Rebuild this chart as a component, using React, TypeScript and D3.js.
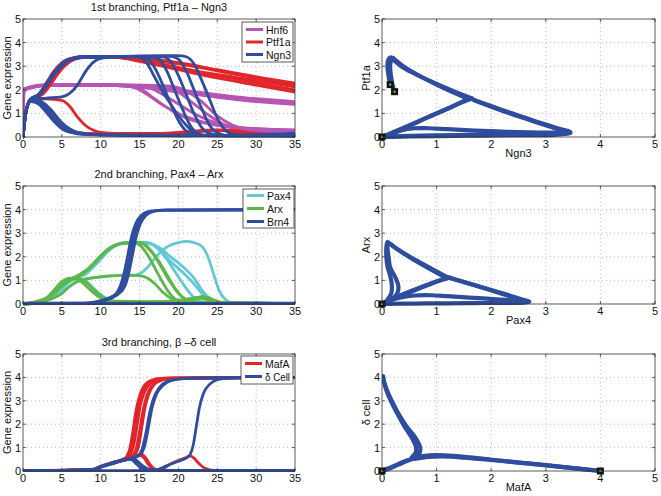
import React from 'react';
import * as d3 from 'd3';

type Pt = [number, number];

const FONT = '"Liberation Sans", Arial, Helvetica, sans-serif';

const timeTicks = [0, 5, 10, 15, 20, 25, 30, 35];
const levelTicks = [0, 1, 2, 3, 4, 5];

const RED = '#e2242b';
const BLUE = '#2f4d9f';
const MAGENTA = '#b655b3';
const CYAN = '#62c8d8';
const GREEN = '#5cb84b';

// ---------- 1st branching: time courses ----------
const hnf6Runs: Pt[][] = [
  [[0, 0], [0.15, 1.9], [0.5, 2.05], [1, 2.12], [3, 2.2], [10, 2.22], [15, 2.15], [20, 1.95], [25, 1.75], [30, 1.58], [35, 1.45]],
  [[0, 1.98], [1, 2.1], [3, 2.18], [10, 2.2], [15, 2.1], [20, 1.9], [25, 1.68], [30, 1.5], [35, 1.38]],
  [[0, 2.02], [1, 2.14], [3, 2.22], [10, 2.23], [15, 2.18], [20, 2.0], [25, 1.8], [30, 1.62], [35, 1.5]],
  [[0, 2.0], [3, 2.2], [10, 2.2], [14, 2.12], [16, 1.8], [18, 1.35], [20, 1.0], [22, 0.75], [25, 0.5], [30, 0.35], [35, 0.28]],
  [[0, 2.0], [3, 2.2], [12, 2.2], [16, 2.1], [18, 1.8], [20, 1.4], [22, 1.0], [24, 0.7], [27, 0.45], [31, 0.3], [35, 0.22]],
  [[0, 2.0], [3, 2.2], [14, 2.2], [18, 2.15], [20, 1.9], [22, 1.4], [24, 0.9], [26, 0.5], [28, 0.3], [31, 0.2], [35, 0.15]],
  [[0, 2.0], [3, 2.2], [15, 2.2], [19, 2.15], [21, 1.95], [23, 1.5], [25, 0.9], [27, 0.5], [29, 0.3], [32, 0.2], [35, 0.18]],
  [[0, 1.99], [3, 2.19], [12, 2.2], [15, 2.05], [17, 1.6], [19, 1.15], [21, 0.8], [24, 0.55], [28, 0.38], [35, 0.3]],
];

const ptf1aRuns: Pt[][] = [
  [[0, 0], [0.4, 1.1], [1, 1.6], [2, 1.75], [3, 2.15], [4, 2.65], [5, 3.05], [6, 3.28], [7, 3.38], [9, 3.42], [12, 3.4], [15, 3.3], [20, 3.1], [25, 2.8], [30, 2.5], [35, 2.2]],
  [[0, 0], [0.4, 1.1], [1, 1.6], [2, 1.7], [3, 2.0], [4, 2.45], [5, 2.9], [6, 3.2], [7, 3.35], [9, 3.4], [12, 3.38], [15, 3.25], [20, 2.95], [25, 2.6], [30, 2.3], [35, 2.0]],
  [[0, 0], [0.4, 1.1], [1, 1.6], [2, 1.8], [3, 2.3], [4, 2.8], [5, 3.15], [6, 3.32], [8, 3.4], [12, 3.4], [15, 3.35], [20, 3.15], [25, 2.85], [30, 2.55], [35, 2.28]],
  [[0, 0], [0.4, 1.1], [1, 1.6], [2.5, 1.8], [3.5, 2.2], [4.5, 2.7], [5.5, 3.05], [6.5, 3.28], [8, 3.38], [12, 3.38], [15, 3.2], [20, 2.85], [25, 2.5], [30, 2.2], [35, 1.9]],
  [[0, 0], [0.4, 1.1], [1, 1.6], [2, 1.78], [3, 2.2], [4, 2.7], [5, 3.1], [6, 3.3], [8, 3.4], [12, 3.4], [15, 3.3], [18, 3.05], [22, 2.8], [27, 2.55], [31, 2.35], [35, 2.12]],
  [[0, 0], [0.4, 1.1], [1, 1.55], [2, 1.5], [3, 1.25], [4, 0.85], [5, 0.5], [6, 0.3], [7, 0.2], [9, 0.14], [15, 0.12], [20, 0.15], [24, 0.28], [27, 0.25], [30, 0.12], [35, 0.08]],
  [[0, 0], [0.4, 1.1], [1, 1.55], [2, 1.45], [3, 1.1], [4, 0.7], [5, 0.4], [6, 0.25], [8, 0.15], [15, 0.1], [20, 0.2], [25, 0.3], [28, 0.15], [35, 0.1]],
  [[0, 0], [0.4, 1.1], [1, 1.6], [3, 1.62], [5, 1.55], [6, 1.3], [7, 0.85], [8, 0.5], [9, 0.3], [10, 0.2], [12, 0.15], [18, 0.15], [22, 0.22], [26, 0.3], [30, 0.15], [35, 0.05]],
];

const ngn3Runs: Pt[][] = [
  [[0, 0], [0.4, 1.1], [1, 1.6], [2, 1.8], [3, 2.25], [4, 2.75], [5, 3.1], [6, 3.3], [8, 3.4], [15, 3.42], [16, 3.35], [17, 2.9], [18, 2.2], [19, 1.4], [20, 0.7], [21, 0.25], [22, 0.1], [25, 0.05], [35, 0.05]],
  [[0, 0], [0.4, 1.1], [1, 1.6], [2, 1.75], [3, 2.15], [4, 2.65], [5, 3.0], [6, 3.25], [8, 3.38], [16, 3.42], [17.5, 3.3], [18.5, 2.8], [19.5, 2.0], [20.5, 1.2], [21.5, 0.5], [22.5, 0.15], [24, 0.05], [35, 0.05]],
  [[0, 0], [0.4, 1.1], [1, 1.6], [3, 1.65], [5, 1.7], [6, 1.85], [7, 2.2], [8, 2.75], [9, 3.15], [10, 3.33], [12, 3.4], [18, 3.45], [20, 3.45], [21, 3.4], [22, 3.1], [23, 2.4], [24, 1.6], [25, 0.8], [26, 0.3], [27, 0.12], [29, 0.05], [35, 0.08]],
  [[0, 0], [0.4, 1.1], [1, 1.6], [2, 1.8], [3, 2.2], [4, 2.7], [5, 3.05], [6, 3.28], [8, 3.4], [15, 3.4], [18, 3.4], [19, 3.2], [20, 2.6], [21, 1.8], [22, 1.0], [23, 0.4], [24, 0.15], [26, 0.05], [35, 0.1]],
  [[0, 0], [0.4, 1.1], [1, 1.6], [2, 1.77], [3, 2.2], [4, 2.7], [5, 3.08], [6, 3.3], [8, 3.4], [15, 3.4], [16, 3.1], [17, 2.5], [18, 1.9], [19, 1.4], [20, 0.9], [21, 0.5], [22, 0.2], [23, 0.08], [35, 0.05]],
  [[0, 0], [0.4, 1.1], [1, 1.6], [2, 1.76], [3, 2.18], [4, 2.68], [5, 3.04], [6, 3.27], [8, 3.4], [15, 3.42], [19, 3.42], [20, 3.3], [21, 2.8], [22, 2.0], [23, 1.2], [24, 0.5], [25, 0.18], [26.5, 0.06], [35, 0.12]],
  [[0, 0], [0.4, 1.1], [1, 1.55], [2, 1.5], [3, 1.2], [4, 0.8], [5, 0.45], [6, 0.25], [8, 0.12], [12, 0.08], [35, 0.05]],
  [[0, 0], [0.4, 1.1], [1, 1.5], [2, 1.4], [3, 1.05], [4, 0.65], [5, 0.35], [6, 0.2], [8, 0.1], [20, 0.05], [30, 0.1], [35, 0.15]],
  [[0, 0], [0.4, 1.1], [1, 1.6], [2, 1.55], [3, 1.35], [4, 1.0], [5, 0.6], [6, 0.35], [7, 0.2], [9, 0.1], [35, 0.05]],
];

// ---------- 2nd branching: time courses ----------
const pax4Runs: Pt[][] = [
  [[0, 0], [2, 0.05], [3, 0.2], [4, 0.45], [5, 0.75], [6, 1.0], [7, 1.15], [8, 1.3], [9, 1.6], [10, 1.95], [11, 2.3], [12, 2.5], [13, 2.6], [15, 2.62], [16.5, 2.55], [17.5, 2.3], [18.5, 1.9], [19.5, 1.4], [20.5, 0.9], [21.5, 0.45], [22.5, 0.15], [24, 0.03], [35, 0.02]],
  [[0, 0], [2, 0.05], [3, 0.18], [4, 0.4], [5, 0.7], [6, 0.95], [7, 1.1], [8, 1.25], [9, 1.55], [10, 1.9], [11, 2.25], [12, 2.48], [13, 2.58], [16, 2.6], [17, 2.45], [18, 2.15], [19, 1.8], [20, 1.5], [21, 1.2], [22, 0.85], [23, 0.45], [24, 0.15], [25, 0.04], [35, 0.02]],
  [[0, 0], [2, 0.06], [3, 0.22], [4, 0.48], [5, 0.8], [6, 1.02], [7, 1.18], [8, 1.35], [9, 1.65], [10, 2.0], [11, 2.32], [12, 2.52], [13, 2.6], [16, 2.58], [17.5, 2.4], [19, 2.0], [20.5, 1.6], [22, 1.1], [23, 0.6], [24, 0.25], [25, 0.08], [26, 0.02], [35, 0.02]],
  [[0, 0], [3, 0.15], [5, 0.45], [6, 0.75], [7, 0.95], [8, 1.05], [10, 1.15], [12, 1.2], [14, 1.2], [15, 1.28], [16, 1.55], [17, 1.95], [18, 2.3], [19, 2.5], [20, 2.6], [21, 2.65], [22, 2.6], [23, 2.45], [23.8, 2.0], [24.5, 1.3], [25.2, 0.6], [26, 0.2], [27, 0.05], [35, 0.02]],
  [[0, 0], [3, 0.15], [5, 0.6], [6, 0.95], [7, 1.1], [8, 1.0], [9, 0.7], [10, 0.4], [11, 0.2], [12, 0.1], [14, 0.05], [35, 0.02]],
];

const arxRuns: Pt[][] = [
  [[0, 0], [2, 0.05], [3, 0.2], [4, 0.45], [5, 0.75], [6, 1.0], [7, 1.15], [8, 1.35], [9, 1.65], [10, 2.0], [11, 2.3], [12, 2.5], [13, 2.58], [15, 2.6], [16, 2.4], [17, 2.0], [18, 1.45], [19, 0.9], [20, 0.45], [21, 0.2], [22, 0.2], [23, 0.3], [24, 0.25], [25, 0.1], [26, 0.03], [35, 0.02]],
  [[0, 0], [2, 0.05], [3, 0.25], [4, 0.5], [5, 0.8], [6, 1.05], [7, 1.2], [8, 1.4], [9, 1.7], [10, 2.05], [11, 2.35], [12, 2.52], [14, 2.6], [15.5, 2.55], [16.5, 2.25], [17.5, 1.8], [18.5, 1.25], [19.5, 0.7], [20.5, 0.3], [21.5, 0.15], [22.5, 0.25], [23.5, 0.2], [25, 0.05], [35, 0.02]],
  [[0, 0], [2, 0.06], [3, 0.22], [4, 0.48], [5, 0.78], [6, 1.02], [7, 1.18], [8, 1.38], [9, 1.68], [10, 2.02], [11, 2.32], [12, 2.5], [14, 2.6], [15, 2.5], [16, 2.1], [17, 1.5], [18, 0.9], [19, 0.4], [20, 0.15], [21, 0.1], [23, 0.3], [24, 0.22], [26, 0.04], [35, 0.02]],
  [[0, 0], [3, 0.15], [5, 0.45], [6, 0.75], [7, 0.95], [8, 1.05], [10, 1.15], [12, 1.2], [14, 1.22], [15, 1.2], [16, 1.1], [17, 0.85], [18, 0.5], [19, 0.25], [20, 0.12], [22, 0.08], [35, 0.02]],
  [[0, 0], [3, 0.2], [4, 0.5], [5, 0.85], [6, 1.05], [7, 1.1], [8, 0.95], [9, 0.65], [10, 0.35], [11, 0.18], [12, 0.12], [16, 0.1], [20, 0.12], [22, 0.25], [23, 0.3], [24, 0.2], [26, 0.03], [35, 0.02]],
  [[0, 0], [3, 0.25], [4, 0.6], [5, 0.95], [6, 1.1], [7, 1.05], [8, 0.8], [9, 0.5], [10, 0.25], [11, 0.12], [14, 0.08], [18, 0.1], [21, 0.2], [23, 0.28], [25, 0.08], [35, 0.02]],
];

const brn4Runs: Pt[][] = [
  [[0, 0.02], [8, 0.03], [9, 0.06], [10, 0.12], [11, 0.22], [12, 0.4], [12.8, 0.75], [13.3, 1.3], [13.8, 2.1], [14.3, 2.9], [14.8, 3.4], [15.5, 3.75], [16.5, 3.92], [18, 3.98], [35, 4.0]],
  [[0, 0.02], [8, 0.03], [9, 0.05], [10, 0.1], [11, 0.2], [12, 0.36], [13.1, 0.75], [13.6, 1.3], [14.1, 2.1], [14.6, 2.9], [15.1, 3.4], [15.8, 3.75], [16.8, 3.92], [18.5, 3.98], [35, 4.0]],
  [[0, 0.02], [8, 0.04], [9, 0.07], [10, 0.14], [11, 0.25], [12, 0.45], [12.5, 0.75], [13.0, 1.3], [13.5, 2.1], [14.0, 2.9], [14.5, 3.4], [15.2, 3.75], [16.2, 3.92], [17.8, 3.98], [35, 4.0]],
  [[0, 0.02], [35, 0.02]],
  [[0, 0.04], [20, 0.03], [35, 0.04]],
];

// ---------- 3rd branching: time courses ----------
const mafaRuns: Pt[][] = [
  [[0, 0.02], [8, 0.04], [9, 0.08], [10, 0.18], [11, 0.28], [12, 0.38], [13, 0.5], [13.5, 0.65], [14, 1.1], [14.4, 1.9], [14.8, 2.7], [15.3, 3.3], [16, 3.7], [17, 3.9], [18.5, 3.97], [35, 4.0]],
  [[0, 0.02], [9, 0.06], [10, 0.2], [11, 0.3], [12, 0.4], [13, 0.52], [13.8, 0.7], [14.3, 1.2], [14.7, 2.0], [15.1, 2.8], [15.6, 3.35], [16.3, 3.72], [17.3, 3.9], [19, 3.97], [35, 4.0]],
  [[0, 0.02], [9, 0.06], [10, 0.2], [12, 0.4], [13, 0.5], [14, 0.62], [14.6, 1.0], [15, 1.7], [15.4, 2.5], [15.9, 3.2], [16.6, 3.65], [17.6, 3.88], [19, 3.96], [35, 4.0]],
  [[0, 0.02], [9, 0.05], [10, 0.18], [12, 0.38], [13, 0.48], [14.2, 0.62], [14.9, 1.1], [15.3, 1.9], [15.7, 2.7], [16.2, 3.3], [16.9, 3.7], [18, 3.9], [19.5, 3.97], [35, 4.0]],
  [[0, 0.02], [9, 0.06], [10, 0.2], [12, 0.4], [13, 0.5], [13.3, 0.6], [13.7, 0.9], [14.1, 1.6], [14.5, 2.5], [14.9, 3.1], [15.5, 3.6], [16.5, 3.88], [18, 3.97], [35, 4.0]],
  [[0, 0.02], [9, 0.05], [10, 0.18], [12, 0.38], [13.5, 0.52], [14.5, 0.65], [15.2, 0.72], [15.7, 0.6], [16.3, 0.3], [17, 0.08], [18, 0.03], [35, 0.02]],
  [[0, 0.02], [9, 0.05], [10, 0.18], [12, 0.38], [13.5, 0.52], [14.5, 0.62], [15, 0.68], [15.6, 0.55], [16.2, 0.25], [17, 0.06], [18, 0.1], [19, 0.3], [20, 0.45], [21, 0.58], [21.5, 0.65], [22, 0.55], [22.7, 0.3], [23.5, 0.1], [24.5, 0.03], [35, 0.02]],
];

const deltaRuns: Pt[][] = [
  [[0, 0.02], [9, 0.05], [10, 0.18], [11, 0.3], [12, 0.4], [13, 0.48], [14, 0.55], [14.8, 0.65], [15.3, 0.9], [15.8, 1.6], [16.3, 2.5], [16.8, 3.1], [17.5, 3.55], [18.5, 3.82], [20, 3.93], [23, 3.98], [35, 4.0]],
  [[0, 0.02], [9, 0.05], [10, 0.17], [12, 0.38], [14, 0.55], [15, 0.68], [15.6, 1.0], [16.1, 1.8], [16.6, 2.7], [17.2, 3.3], [18, 3.65], [19.2, 3.88], [21, 3.96], [35, 4.0]],
  [[0, 0.02], [9, 0.05], [10, 0.18], [12, 0.38], [13.5, 0.5], [14.2, 0.55], [14.8, 0.4], [15.4, 0.2], [16, 0.05], [17, 0.02], [35, 0.02]],
  [[0, 0.02], [9, 0.05], [10, 0.16], [12, 0.36], [13.5, 0.52], [14, 0.48], [14.6, 0.3], [15.2, 0.12], [16, 0.03], [35, 0.02]],
  [[0, 0.02], [9, 0.05], [10, 0.18], [12, 0.38], [14, 0.52], [14.5, 0.45], [15.3, 0.25], [16.2, 0.08], [17, 0.05], [18, 0.15], [19, 0.3], [20, 0.42], [21, 0.55], [21.5, 0.7], [21.9, 1.1], [22.3, 1.9], [22.7, 2.7], [23.2, 3.3], [24, 3.7], [25, 3.9], [26.5, 3.97], [35, 4.0]],
  [[0, 0.02], [35, 0.02]],
];

// ---------- phase portraits ----------
// x = Ngn3, y = Ptf1a
const ptfNgnPaths: Pt[][] = [
  [[0, 0], [0.4, 0.4], [0.8, 0.8], [1.2, 1.2], [1.6, 1.6], [1.65, 1.63]],
  [[0.05, 0.02], [0.45, 0.42], [0.85, 0.84], [1.25, 1.25], [1.55, 1.58]],
  [[1.65, 1.63], [1.3, 1.95], [0.95, 2.3], [0.6, 2.68], [0.35, 3.0], [0.2, 3.3], [0.16, 3.38], [0.12, 3.3], [0.1, 3.05], [0.11, 2.75], [0.13, 2.45], [0.16, 2.22]],
  [[1.6, 1.6], [1.2, 2.0], [0.8, 2.45], [0.45, 2.9], [0.25, 3.25], [0.2, 3.35], [0.16, 3.2], [0.15, 2.9], [0.17, 2.5], [0.2, 2.15], [0.23, 1.92]],
  [[1.65, 1.6], [2.1, 1.2], [2.6, 0.8], [3.1, 0.42], [3.4, 0.2], [3.45, 0.17], [3.3, 0.14], [2.8, 0.12], [2.2, 0.1], [1.6, 0.09], [1.0, 0.07], [0.5, 0.05], [0.1, 0.02], [0, 0]],
  [[1.7, 1.55], [2.2, 1.15], [2.7, 0.75], [3.2, 0.38], [3.45, 0.2], [3.2, 0.1], [2.5, 0.08], [1.8, 0.06], [1.1, 0.04], [0.5, 0.03], [0, 0]],
  [[0, 0], [0.15, 0.12], [0.35, 0.28], [0.6, 0.37], [0.85, 0.37], [1.2, 0.33], [1.7, 0.27], [2.3, 0.22], [2.9, 0.19], [3.4, 0.18]],
];
const ptfNgnEnds: Pt[] = [[0, 0], [0.15, 2.22], [0.23, 1.92]];

// x = Pax4, y = Arx
const arxPaxPaths: Pt[][] = [
  [[0, 0], [0.3, 0.3], [0.6, 0.58], [0.9, 0.86], [1.2, 1.13]],
  [[0.05, 0.05], [0.35, 0.38], [0.7, 0.7], [1.0, 0.95], [1.25, 1.12]],
  [[1.2, 1.13], [0.9, 1.5], [0.6, 1.88], [0.3, 2.3], [0.14, 2.55], [0.1, 2.63], [0.08, 2.4], [0.08, 2.0], [0.1, 1.6], [0.15, 1.2], [0.18, 0.8], [0.17, 0.45], [0.1, 0.18], [0.03, 0.03], [0, 0]],
  [[1.18, 1.1], [0.85, 1.52], [0.55, 1.92], [0.28, 2.32], [0.12, 2.58], [0.1, 2.4], [0.12, 2.0], [0.15, 1.55], [0.25, 1.1], [0.3, 0.75], [0.28, 0.45], [0.18, 0.2], [0.05, 0.04], [0, 0]],
  [[1.2, 1.13], [1.55, 0.9], [1.9, 0.66], [2.25, 0.42], [2.55, 0.2], [2.7, 0.1], [2.6, 0.06], [2.2, 0.05], [1.7, 0.04], [1.2, 0.03], [0.6, 0.02], [0, 0]],
  [[1.25, 1.1], [1.6, 0.86], [2.0, 0.58], [2.35, 0.32], [2.62, 0.13], [2.68, 0.08]],
  [[0, 0], [0.15, 0.15], [0.35, 0.28], [0.6, 0.36], [0.9, 0.37], [1.2, 0.33], [1.6, 0.27], [2.1, 0.2], [2.5, 0.13], [2.68, 0.09]],
];
const arxPaxEnds: Pt[] = [[0, 0]];

// x = MafA, y = delta cell
const deltaMafPaths: Pt[][] = [
  [[0, 0], [0.15, 0.12], [0.3, 0.27], [0.45, 0.42], [0.6, 0.55]],
  [[0.02, 0.03], [0.2, 0.2], [0.4, 0.4], [0.55, 0.52], [0.62, 0.58]],
  [[0.6, 0.55], [0.68, 0.72], [0.7, 1.0], [0.62, 1.4], [0.45, 1.9], [0.3, 2.45], [0.2, 2.9], [0.1, 3.4], [0.04, 3.8], [0.02, 4.05]],
  [[0.55, 0.6], [0.62, 0.8], [0.62, 1.05], [0.55, 1.4], [0.4, 1.95], [0.27, 2.5], [0.17, 2.95], [0.08, 3.45], [0.03, 3.85], [0.01, 4.02]],
  [[0.55, 0.55], [0.75, 0.64], [1.0, 0.68], [1.3, 0.65], [1.7, 0.56], [2.1, 0.46], [2.6, 0.34], [3.1, 0.22], [3.6, 0.1], [4.0, 0.0]],
  [[0.6, 0.52], [0.85, 0.6], [1.1, 0.62], [1.5, 0.57], [2.0, 0.47], [2.5, 0.36], [3.0, 0.25], [3.5, 0.12], [3.95, 0.02]],
];
const deltaMafEnds: Pt[] = [[0, 0], [4, 0]];

type Series = { runs: Pt[][]; color: string };
type LegendItem = { label: string; color: string };

type PanelProps = {
  id: string;
  left: number; right: number; top: number; bottom: number;
  xMax: number; xTicks: number[];
  title?: string; xLabel?: string; yLabel: string;
  series: Series[];
  lineWidth: number;
  phase?: boolean;
  legend?: LegendItem[];
  legendBox?: { x: number; y: number; w: number; h: number; row0: number; dy: number };
  ends?: Pt[];
};

function Panel(p: PanelProps) {
  const x = d3.scaleLinear().domain([0, p.xMax]).range([p.left, p.right]);
  const y = d3.scaleLinear().domain([0, 5]).range([p.bottom, p.top]);
  const line = d3.line<Pt>()
    .x(d => x(d[0]))
    .y(d => y(d[1]))
    .curve(p.phase ? d3.curveCatmullRom.alpha(0.5) : d3.curveMonotoneX);
  const tick = 3;
  const lb = p.legendBox;
  return (
    <g fontFamily={FONT}>
      <defs>
        <clipPath id={p.id}>
          <rect x={p.left} y={p.top} width={p.right - p.left} height={p.bottom - p.top + 2} />
        </clipPath>
      </defs>
      <rect x={p.left} y={p.top} width={p.right - p.left} height={p.bottom - p.top} fill="#fff" />
      {/* grid */}
      <g stroke="#a8a8a8" strokeWidth={0.8} strokeDasharray="1 3">
        {p.xTicks.slice(1, -1).map(t => (
          <line key={'gx' + t} x1={x(t)} x2={x(t)} y1={p.top} y2={p.bottom} />
        ))}
        {levelTicks.slice(1, -1).map(t => (
          <line key={'gy' + t} x1={p.left} x2={p.right} y1={y(t)} y2={y(t)} />
        ))}
      </g>
      {/* data */}
      <g clipPath={`url(#${p.id})`} fill="none" strokeLinecap="round" strokeLinejoin="round">
        {p.series.map((s, i) => (
          <g key={i} stroke={s.color} strokeWidth={p.lineWidth}>
            {s.runs.map((r, j) => <path key={j} d={line(r) || ''} />)}
          </g>
        ))}
      </g>
      {p.ends && p.ends.map((e, i) => (
        <g key={'e' + i}>
          <rect x={x(e[0]) - 3.5} y={y(e[1]) - 3.5} width={7} height={7} fill="#111" />
          <rect x={x(e[0]) - 1} y={y(e[1]) - 1} width={2} height={2} fill="#7ed957" />
        </g>
      ))}
      {/* frame and ticks */}
      <rect x={p.left} y={p.top} width={p.right - p.left} height={p.bottom - p.top} fill="none" stroke="#333" strokeWidth={0.8} />
      <g stroke="#333" strokeWidth={0.8}>
        {p.xTicks.map(t => (
          <g key={'tx' + t}>
            <line x1={x(t)} x2={x(t)} y1={p.bottom} y2={p.bottom - tick} />
            <line x1={x(t)} x2={x(t)} y1={p.top} y2={p.top + tick} />
          </g>
        ))}
        {levelTicks.map(t => (
          <g key={'ty' + t}>
            <line x1={p.left} x2={p.left + tick} y1={y(t)} y2={y(t)} />
            <line x1={p.right} x2={p.right - tick} y1={y(t)} y2={y(t)} />
          </g>
        ))}
      </g>
      <g fontSize={11} fill="#111">
        {p.xTicks.map(t => (
          <text key={'lx' + t} x={x(t)} y={p.bottom + 11} textAnchor="middle">{t}</text>
        ))}
        {levelTicks.map(t => (
          <text key={'ly' + t} x={p.left - 2} y={y(t) + 4} textAnchor="end">{t}</text>
        ))}
      </g>
      {p.title && (
        <text x={(p.left + p.right) / 2} y={p.top - 8} textAnchor="middle" fontSize={11} fill="#111">{p.title}</text>
      )}
      {p.xLabel && (
        <text x={(p.left + p.right) / 2} y={p.bottom + 20} textAnchor="middle" fontSize={11} fill="#111">{p.xLabel}</text>
      )}
      <text
        transform={`translate(${p.left - 12},${(p.top + p.bottom) / 2}) rotate(-90)`}
        textAnchor="middle" fontSize={11} fill="#111">{p.yLabel}</text>
      {p.legend && lb && (
        <g>
          <rect x={lb.x} y={lb.y} width={lb.w} height={lb.h} fill="#fff" stroke="#333" strokeWidth={0.8} />
          {p.legend.map((l, i) => {
            const ry = lb.row0 + i * lb.dy;
            return (
              <g key={l.label}>
                <line x1={lb.x + 4} x2={lb.x + 21} y1={ry} y2={ry} stroke={l.color} strokeWidth={3} />
                <text x={lb.x + 24} y={ry + 4} fontSize={10.5} fill="#111"
                  textLength={l.label.length > 5 ? 25 : undefined} lengthAdjust="spacingAndGlyphs">{l.label}</text>
              </g>
            );
          })}
        </g>
      )}
    </g>
  );
}

export default function App() {
  const L = { left: 23, right: 295 };
  const R = { left: 382, right: 655 };
  const rows = [
    { top: 19, bottom: 137 },
    { top: 186, bottom: 304 },
    { top: 354, bottom: 471 },
  ];
  return (
    <svg width={661} height={496} style={{ position: 'absolute', left: 0, top: 0, background: '#fff' }}>
      <Panel id="c1" {...L} {...rows[0]} xMax={35} xTicks={timeTicks}
        title="1st branching, Ptf1a – Ngn3" yLabel="Gene expression" lineWidth={2.8}
        series={[{ runs: hnf6Runs, color: MAGENTA }, { runs: ptf1aRuns, color: RED }, { runs: ngn3Runs, color: BLUE }]}
        legend={[{ label: 'Hnf6', color: MAGENTA }, { label: 'Ptf1a', color: RED }, { label: 'Ngn3', color: BLUE }]}
        legendBox={{ x: 242, y: 22, w: 51, h: 40, row0: 29.5, dy: 12.5 }} />
      <Panel id="c2" {...R} {...rows[0]} xMax={5} xTicks={levelTicks} phase
        xLabel="Ngn3" yLabel="Ptf1a" lineWidth={4.2}
        series={[{ runs: ptfNgnPaths, color: BLUE }]} ends={ptfNgnEnds} />
      <Panel id="c3" {...L} {...rows[1]} xMax={35} xTicks={timeTicks}
        title="2nd branching, Pax4 – Arx" yLabel="Gene expression" lineWidth={2.8}
        series={[{ runs: pax4Runs, color: CYAN }, { runs: arxRuns, color: GREEN }, { runs: brn4Runs, color: BLUE }]}
        legend={[{ label: 'Pax4', color: CYAN }, { label: 'Arx', color: GREEN }, { label: 'Brn4', color: BLUE }]}
        legendBox={{ x: 243, y: 189, w: 51, h: 39, row0: 195.5, dy: 13 }} />
      <Panel id="c4" {...R} {...rows[1]} xMax={5} xTicks={levelTicks} phase
        xLabel="Pax4" yLabel="Arx" lineWidth={4.2}
        series={[{ runs: arxPaxPaths, color: BLUE }]} ends={arxPaxEnds} />
      <Panel id="c5" {...L} {...rows[2]} xMax={35} xTicks={timeTicks}
        title="3rd branching, β –δ cell" yLabel="Gene expression" lineWidth={2.8}
        series={[{ runs: mafaRuns, color: RED }, { runs: deltaRuns, color: BLUE }]}
        legend={[{ label: 'MafA', color: RED }, { label: 'δ Cell', color: BLUE }]}
        legendBox={{ x: 241, y: 356, w: 52, h: 28, row0: 363.5, dy: 13 }} />
      <Panel id="c6" {...R} {...rows[2]} xMax={5} xTicks={levelTicks} phase
        xLabel="MafA" yLabel="δ cell" lineWidth={4.2}
        series={[{ runs: deltaMafPaths, color: BLUE }]} ends={deltaMafEnds} />
    </svg>
  );
}
